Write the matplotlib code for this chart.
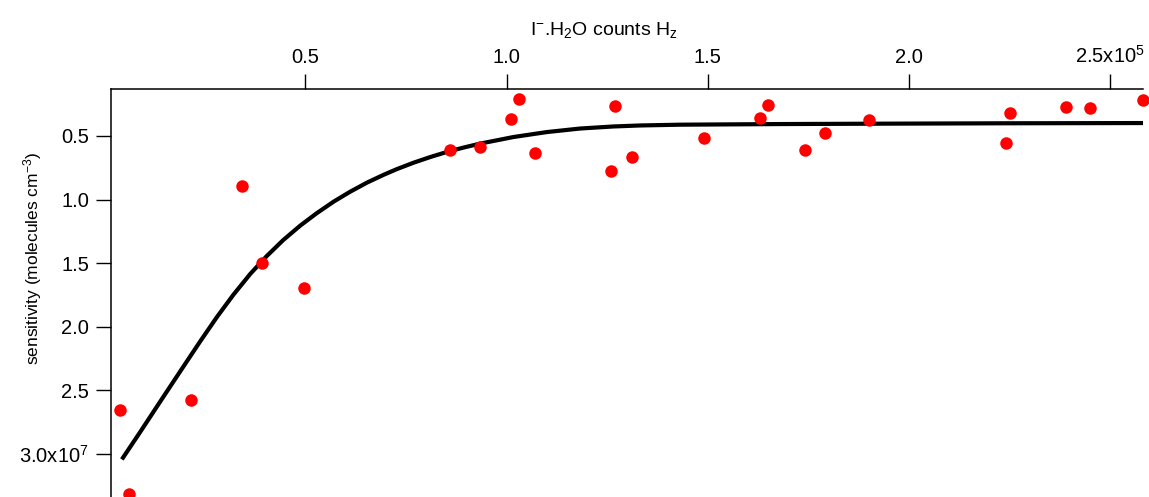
import matplotlib
matplotlib.use('Agg')
import matplotlib.pyplot as plt

plt.rcParams['font.family'] = ['Liberation Sans', 'DejaVu Sans']
plt.rcParams['mathtext.fontset'] = 'custom'
plt.rcParams['mathtext.rm'] = 'Liberation Sans'
plt.rcParams['mathtext.it'] = 'Liberation Sans:italic'

#%% Data (x in 1e5 counts Hz, y in 1e7 molecules cm-3)

counts = [0.040, 0.062, 0.216, 0.343, 0.393, 0.497, 0.860, 0.934, 1.011, 1.031,
          1.071, 1.260, 1.270, 1.312, 1.491, 1.630, 1.650, 1.742, 1.791, 1.901,
          2.241, 2.251, 2.390, 2.450, 2.581]
sensitivity = [2.66, 3.32, 2.58, 0.894, 1.50, 1.70, 0.61, 0.587, 0.366, 0.209,
               0.634, 0.776, 0.264, 0.665, 0.516, 0.358, 0.256, 0.610, 0.476, 0.374,
               0.555, 0.319, 0.272, 0.280, 0.217]

# fit curve
fit_x = [0.044, 0.090, 0.139, 0.190, 0.239, 0.280, 0.321, 0.363, 0.404, 0.445,
         0.487, 0.528, 0.570, 0.611, 0.653, 0.694, 0.727, 0.768, 0.810, 0.851,
         0.893, 0.934, 1.017, 1.100, 1.183, 1.265, 1.332, 1.431, 1.680, 1.928,
         2.226, 2.581]
fit_y = [3.046, 2.828, 2.592, 2.348, 2.115, 1.926, 1.750, 1.586, 1.445, 1.319,
         1.206, 1.108, 1.017, 0.939, 0.867, 0.806, 0.761, 0.711, 0.666, 0.626,
         0.591, 0.560, 0.508, 0.469, 0.441, 0.425, 0.417, 0.411, 0.406, 0.403,
         0.400, 0.398]

x_ticks = [0.5, 1.0, 1.5, 2.0, 2.5]
x_tick_labels = ['0.5', '1.0', '1.5', '2.0', r'2.5x10$^{5}$']
y_ticks = [0.5, 1.0, 1.5, 2.0, 2.5, 3.0]
y_tick_labels = ['0.5', '1.0', '1.5', '2.0', '2.5', r'3.0x10$^{7}$']

#%% Plot

fig = plt.figure(figsize=(11.49, 4.97), dpi=100)
ax = fig.add_axes([111 / 1149, 0.0, (1143 - 111) / 1149, 1 - 89 / 497])

ax.plot(fit_x, fit_y, color='black', lw=3, solid_capstyle='butt', solid_joinstyle='round')
ax.plot(counts, sensitivity, 'o', color='red', ms=9, mec='none', clip_on=False)

ax.set_xlim(0.017, 2.581)
ax.set_ylim(3.342, 0.13)

ax.xaxis.tick_top()
ax.xaxis.set_label_position('top')
ax.set_xticks(x_ticks)
ax.set_xticklabels(x_tick_labels)
ax.set_yticks(y_ticks)
ax.set_yticklabels(y_tick_labels)
ax.tick_params(direction='out', length=10.8, width=1, labelsize=14.5, pad=5)

for side in ['right', 'bottom']:
    ax.spines[side].set_visible(False)
for side in ['left', 'top']:
    ax.spines[side].set_linewidth(1.1)

ax.set_xlabel(r'I$^{-}$.H$_2$O counts H$_\mathrm{z}$', fontsize=14)
ax.xaxis.label.set_verticalalignment('baseline')
ax.xaxis.set_label_coords(0.478, 1 + (89 - 34.5) / 408)

ax.set_ylabel(r'sensitivity (molecules cm$^{-3}$)', fontsize=12.5)
ax.yaxis.label.set_verticalalignment('center')
ax.yaxis.set_label_coords((33 - 111) / 1032, 1 - (258 - 89) / 408)

fig.savefig('out.png', dpi=100)
